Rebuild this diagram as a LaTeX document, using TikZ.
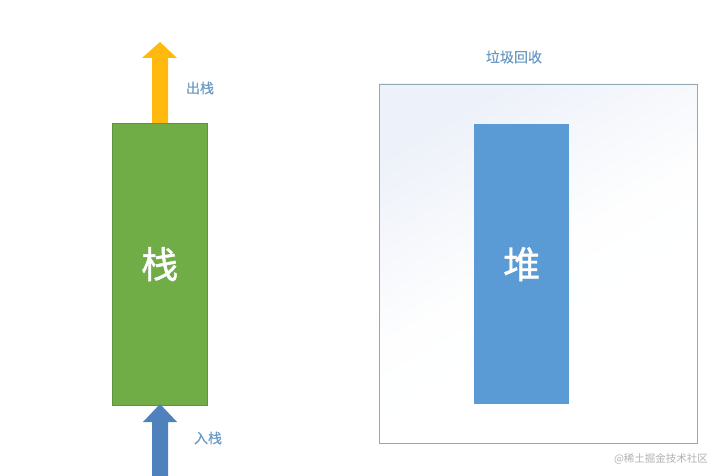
\documentclass[tikz,border=0pt]{standalone}
\usepackage{fontspec}
\setmainfont{Noto Sans CJK SC}
\newfontfamily\medcjk{Noto Sans CJK SC}[FakeBold=1.2]
\newfontfamily\lblcjk{Noto Sans CJK SC}[FakeBold=0.4]
\begin{document}
\begin{tikzpicture}[x=1pt,y=-1pt,
  lbl/.style={text=lblc,font=\lblcjk\fontsize{14}{14}\selectfont,inner sep=0},
  big/.style={text=white,font=\medcjk\fontsize{37}{37}\selectfont,inner sep=0}]
\definecolor{grn}{HTML}{70AD47}
\definecolor{ylw}{HTML}{FFB90F}
\definecolor{blu}{HTML}{4F81BD}
\definecolor{hbl}{HTML}{5B9BD5}
\definecolor{lblc}{HTML}{6A9AC4}
\definecolor{frm}{HTML}{93AAB4}
\definecolor{bgl}{HTML}{EDF1F9}
\useasboundingbox (0,0) rectangle (721,476);
\fill[white] (0,0) rectangle (721,476);
% stack
\node[fill=grn,draw=grn!85!black,line width=0.4pt,minimum width=95pt,minimum height=282pt,inner sep=0,anchor=north west] (stack) at (112,123) {};
\node[big] (stacktxt) at (stack.center) {栈};
% pop arrow
\fill[ylw] (152,123) -- (152,58) -- (142,58) -- (160,42) -- (177,58) -- (168,58) -- (168,123) -- cycle;
\node[lbl] (pop) at (200,88) {出栈};
% push arrow
\fill[blu] (152,476) -- (152,422) -- (143,422) -- (160,404) -- (177,422) -- (168,422) -- (168,476) -- cycle;
\node[lbl] (push) at (208,438) {入栈};
% gc frame
\shade[top color=bgl,bottom color=white,middle color=white!96!bgl,shading angle=30] (379,84) rectangle (697,443);
\node[draw=frm,line width=0.8pt,minimum width=318pt,minimum height=359pt,inner sep=0,anchor=north west] (gc) at (379,84) {};
\node[lbl] (gctitle) at (514,57) {垃圾回收};
% heap
\node[fill=hbl,minimum width=95pt,minimum height=280pt,inner sep=0,anchor=north west] (heap) at (474,124) {};
\node[big] (heaptxt) at (heap.center) {堆};
% watermark
\node[text=black!30,font=\fontsize{10.5}{10.5}\selectfont,inner sep=0] (wm) at (661,459) {@稀土掘金技术社区};
\end{tikzpicture}
\end{document}
